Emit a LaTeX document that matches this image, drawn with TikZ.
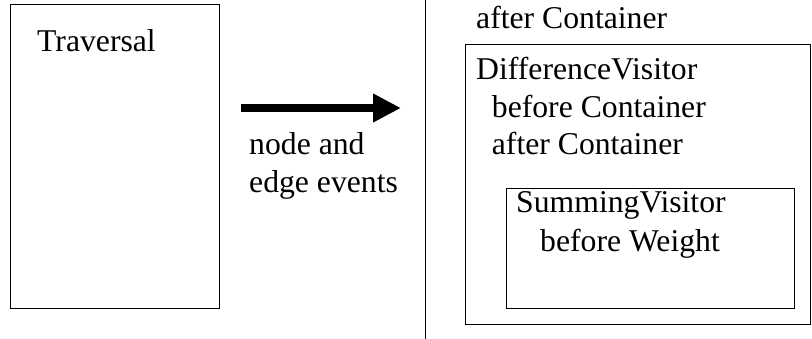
\documentclass[tikz,border=0pt]{standalone}
\usepackage{fontspec}
\setmainfont{Liberation Serif}
\usetikzlibrary{arrows.meta}
\begin{document}
\begin{tikzpicture}[x=1pt,y=-1pt,
  box/.style={draw=black,line width=1pt,rectangle,inner sep=0pt,anchor=north west},
  lbl/.style={anchor=base west,inner sep=0pt,font=\fontsize{31.7}{38}\selectfont}]
\useasboundingbox (0,0) rectangle (812,339);
\fill[white] (0,0) rectangle (812,339);
% Traversal box
\node[box,minimum width=209pt,minimum height=304pt] (trav) at (9.5,4) {};
\node[lbl] (travl) at (37,52) {Traversal};
% arrow
\coordinate (as) at (241,108);
\coordinate (ae) at (401,108);
\draw[line width=8pt,-{Triangle[length=28pt,width=27pt]}] (as) -- (ae);
\node[lbl] (ev1) at (249,155) {node and};
\node[lbl] (ev2) at (249,193) {edge events};
% separator
\coordinate (st) at (425.7,0);
\coordinate (sb) at (425.7,339);
\draw[line width=1pt] (st) -- (sb);
% right side
\node[lbl] (ac0) at (476,29) {after Container};
\node[box,minimum width=345pt,minimum height=280pt] (diff) at (465,44) {};
\node[lbl] (dv) at (476,80) {DifferenceVisitor};
\node[lbl] (bc) at (491.7,117.7) {before Container};
\node[lbl] (ac1) at (491.7,155) {after Container};
\node[box,minimum width=288.6pt,minimum height=120.6pt] (sum) at (505.7,187.7) {};
\node[lbl] (sv) at (516,213) {SummingVisitor};
\node[lbl] (bw) at (540,251.7) {before Weight};
\end{tikzpicture}
\end{document}
